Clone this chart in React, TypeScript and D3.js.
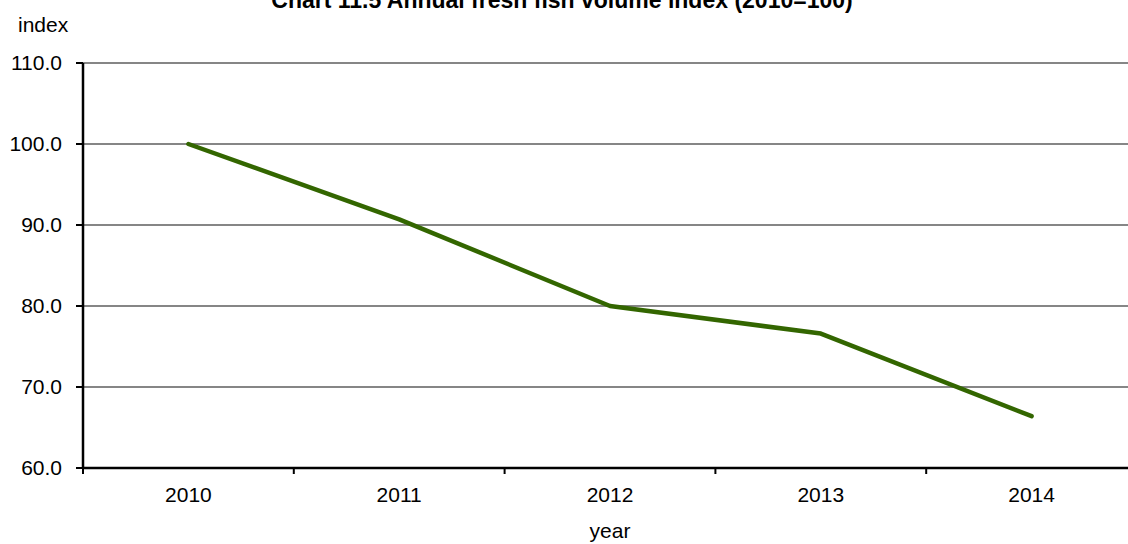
import React from "react";
import * as d3 from "d3";

const years = ["2010", "2011", "2012", "2013", "2014"];
const values = [100.0, 90.7, 80.0, 76.6, 66.4];
const yTicks = [60, 70, 80, 90, 100, 110];
const title = "Chart 11.5  Annual fresh fish volume index (2010=100)";

const W = 1128;
const H = 544;

export default function App() {
  const x = d3.scaleBand<string>().domain(years).range([83, 1137]).padding(0);
  const y = d3.scaleLinear().domain([60, 110]).range([468, 63]);
  const cx = (d: string) => (x(d) as number) + x.bandwidth() / 2;
  const line = d3
    .line<number>()
    .x((_, i) => cx(years[i]))
    .y((d) => y(d));
  const font = "'Liberation Sans', Arial, sans-serif";
  const boundaries = years.map((d) => x(d) as number);
  return (
    <svg
      width={W}
      height={H}
      style={{ position: "absolute", left: 0, top: 0, background: "#fff" }}
      fontFamily={font}
    >
      <text x={562} y={8} textAnchor="middle" fontSize={23} fontWeight="bold">
        {title}
      </text>
      <text x={18} y={32} fontSize={21}>
        index
      </text>
      {yTicks.map((t) => (
        <g key={t}>
          {t > 60 && (
            <line x1={83} x2={W} y1={y(t)} y2={y(t)} stroke="#868686" strokeWidth={2} />
          )}
          <line x1={76} x2={83} y1={y(t)} y2={y(t)} stroke="#000" strokeWidth={2} />
          <text x={62} y={y(t)} dy="0.35em" textAnchor="end" fontSize={21}>
            {t.toFixed(1)}
          </text>
        </g>
      ))}
      <line x1={83} x2={83} y1={y(110)} y2={y(60) + 1} stroke="#000" strokeWidth={2.5} />
      <line x1={82} x2={W} y1={y(60)} y2={y(60)} stroke="#000" strokeWidth={2.5} />
      {boundaries.map((b, i) => (
        <line key={i} x1={b} x2={b} y1={y(60)} y2={y(60) + 6} stroke="#000" strokeWidth={2} />
      ))}
      {years.map((d) => (
        <text key={d} x={cx(d)} y={502} textAnchor="middle" fontSize={21}>
          {d}
        </text>
      ))}
      <text x={610} y={538} textAnchor="middle" fontSize={21}>
        year
      </text>
      <path
        d={line(values) as string}
        fill="none"
        stroke="#336600"
        strokeWidth={4.5}
        strokeLinejoin="round"
        strokeLinecap="round"
      />
    </svg>
  );
}
